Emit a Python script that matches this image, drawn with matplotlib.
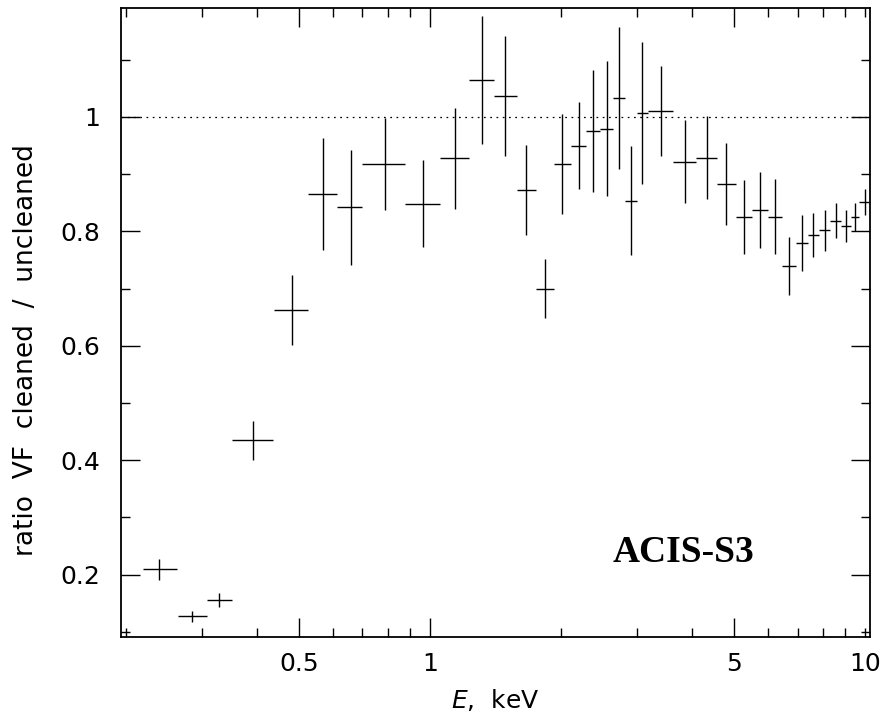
import numpy as np
import matplotlib
matplotlib.use("Agg")
import matplotlib.pyplot as plt
from matplotlib.ticker import FixedLocator, FuncFormatter

# Energy bins (keV): centre, lower edge, upper edge
energy = [0.239, 0.284, 0.328, 0.393, 0.482, 0.569, 0.657, 0.788, 0.962, 1.140,
          1.315, 1.490, 1.662, 1.838, 2.014, 2.197, 2.370, 2.548, 2.716, 2.898,
          3.076, 3.397, 3.863, 4.333, 4.799, 5.270, 5.736, 6.202, 6.688, 7.153,
          7.607, 8.09, 8.56, 9.03, 9.49, 10.0]
e_lo = [0.219, 0.263, 0.307, 0.351, 0.439, 0.525, 0.613, 0.700, 0.876, 1.056,
        1.229, 1.403, 1.583, 1.755, 1.928, 2.106, 2.280, 2.455, 2.634, 2.808,
        2.987, 3.167, 3.626, 4.088, 4.561, 5.044, 5.508, 5.974, 6.44, 6.93,
        7.384, 7.84, 8.32, 8.79, 9.27, 9.70]
e_hi = [0.262, 0.308, 0.350, 0.437, 0.525, 0.613, 0.700, 0.876, 1.056, 1.227,
        1.401, 1.583, 1.755, 1.928, 2.106, 2.280, 2.455, 2.634, 2.808, 2.987,
        3.167, 3.626, 4.088, 4.561, 5.044, 5.508, 5.974, 6.436, 6.93, 7.384,
        7.84, 8.32, 8.79, 9.27, 9.70, 10.2]
ratio = [0.209, 0.127, 0.156, 0.435, 0.662, 0.866, 0.842, 0.918, 0.848, 0.928,
         1.064, 1.037, 0.872, 0.700, 0.918, 0.950, 0.9755, 0.9795, 1.0325, 0.854,
         1.007, 1.010, 0.922, 0.929, 0.883, 0.825, 0.837, 0.826, 0.739, 0.780,
         0.794, 0.802, 0.819, 0.809, 0.825, 0.852]
ratio_err = [0.0175, 0.009, 0.012, 0.034, 0.061, 0.098, 0.100, 0.080, 0.076, 0.088,
             0.112, 0.105, 0.079, 0.051, 0.087, 0.076, 0.106, 0.118, 0.124, 0.096,
             0.124, 0.079, 0.072, 0.072, 0.071, 0.065, 0.066, 0.065, 0.051, 0.049,
             0.039, 0.036, 0.031, 0.028, 0.024, 0.023]

x_major = [0.5, 1, 5]
x_minor = [0.2, 0.3, 0.4, 0.6, 0.7, 0.8, 0.9, 2, 3, 4, 6, 7, 8, 9, 10]
x_labels = {0.5: "0.5", 1: "1", 5: "5", 10: "10"}

plt.rcParams['font.family'] = ['DejaVu Sans']
plt.rcParams['mathtext.fontset'] = 'dejavusans'

fig = plt.figure(figsize=(8.86, 7.19), dpi=100)
ax = fig.add_axes([121/886, 1 - 637/719, (870-121)/886, (637-8.3)/719])

E = np.array(energy)
xerr = [E - np.array(e_lo), np.array(e_hi) - E]
ax.errorbar(E, ratio, xerr=xerr, yerr=ratio_err, fmt='none', ecolor='black',
            elinewidth=1.0, capsize=0)
ax.axhline(1.0, color='black', lw=0.9, linestyle=(0, (1.4, 3.6)))

ax.set_xscale('log')
ax.set_xlim(0.195, 10.27)
ax.set_ylim(0.091, 1.19)

ax.xaxis.set_major_locator(FixedLocator(x_major))
ax.xaxis.set_minor_locator(FixedLocator(x_minor))
ax.xaxis.set_major_formatter(FuncFormatter(lambda v, p: x_labels.get(round(v, 3), "")))
ax.xaxis.set_minor_formatter(FuncFormatter(lambda v, p: x_labels.get(round(v, 3), "")))
ax.yaxis.set_major_locator(FixedLocator([0.2, 0.4, 0.6, 0.8, 1.0]))
ax.yaxis.set_minor_locator(FixedLocator([0.1, 0.3, 0.5, 0.7, 0.9, 1.1]))
ax.yaxis.set_major_formatter(FuncFormatter(lambda v, p: "%g" % round(v, 2)))

for s in ax.spines.values():
    s.set_linewidth(1.3)

ax.tick_params(which='both', direction='in', top=True, right=True, width=1.0,
               labelsize=18)
ax.tick_params(which='major', length=13.7)
ax.tick_params(which='minor', length=6.8)
ax.tick_params(axis='x', which='both', pad=11)
ax.tick_params(axis='y', which='both', pad=15)

ax.set_xlabel(r"$\mathit{E}$,  keV", fontsize=18, labelpad=8)
ax.set_ylabel("ratio  VF  cleaned  /  uncleaned", fontsize=19)
ax.yaxis.set_label_coords(-0.11, 0.456)

ax.text(0.657, 0.12, "ACIS-S3", transform=ax.transAxes, ha='left', va='baseline',
        fontsize=27, fontweight='bold', family=['Liberation Serif'])

fig.savefig("out.png", dpi=100)
